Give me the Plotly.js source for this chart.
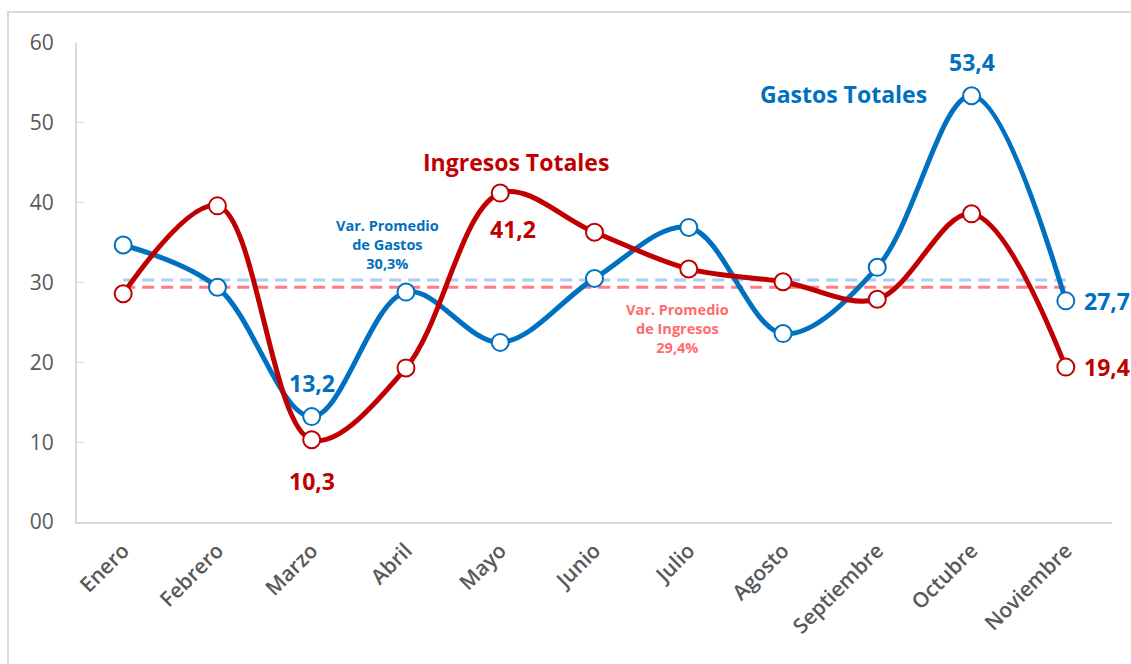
<!DOCTYPE html>
<html>
<head>
<meta charset="utf-8">
<script src="https://cdn.plot.ly/plotly-3.0.1.min.js"></script>
<style>
html,body{margin:0;padding:0;background:#fff;}
#chart{width:1131px;height:664px;}
#frame{position:absolute;left:7px;top:11px;width:1124px;height:653px;border-left:2px solid #d9d9d9;border-top:2px solid #d9d9d9;pointer-events:none;box-sizing:border-box;}
</style>
</head>
<body>
<div id="chart"></div>
<div id="frame"></div>
<script>
const months = ["Enero","Febrero","Marzo","Abril","Mayo","Junio","Julio","Agosto","Septiembre","Octubre","Noviembre"];
const gastos = [34.7, 29.4, 13.2, 28.8, 22.5, 30.5, 36.9, 23.6, 31.9, 53.4, 27.7];
const ingresos = [28.6, 39.6, 10.3, 19.3, 41.2, 36.3, 31.7, 30.1, 27.9, 38.6, 19.4];
const avgGastos = 30.3;
const avgIngresos = 29.4;
const yTickVals = [0,10,20,30,40,50,60];
const yTickText = ["00","10","20","30","40","50","60"];

const BLUE = "#0070c0", RED = "#c00000";
const FONT = "Open Sans";

const traces = [
  {x: months, y: months.map(() => avgGastos), mode: "lines", line: {color: "#a9cdf3", width: 3, dash: "12px,7px"}, hoverinfo: "skip"},
  {x: months, y: months.map(() => avgIngresos), mode: "lines", line: {color: "#ff7c80", width: 3, dash: "12px,7px"}, hoverinfo: "skip"},
  {x: months, y: gastos, mode: "lines+markers", line: {color: BLUE, width: 5, shape: "spline", smoothing: 1},
   marker: {size: 17, color: "#fff", line: {color: BLUE, width: 2}}},
  {x: months, y: ingresos, mode: "lines+markers", line: {color: RED, width: 5, shape: "spline", smoothing: 1},
   marker: {size: 17, color: "#fff", line: {color: RED, width: 2}}}
];

function val(v){ return v.toFixed(1).replace(".", ","); }
const big = (c) => ({family: FONT, size: 23, color: c, weight: 700});
const small = (c) => ({family: FONT, size: 14.5, color: c, weight: 700});
const ann = [
  {x: "Octubre", y: gastos[9], text: val(gastos[9]), yshift: 34, font: big(BLUE)},
  {x: "Noviembre", y: gastos[10], text: val(gastos[10]), xshift: 16, xanchor: "left", font: big(BLUE)},
  {x: "Noviembre", y: ingresos[10], text: val(ingresos[10]), xshift: 16, xanchor: "left", font: big(RED)},
  {x: "Marzo", y: gastos[2], text: val(gastos[2]), yshift: 34, font: big(BLUE)},
  {x: "Marzo", y: ingresos[2], text: val(ingresos[2]), yshift: -41, font: big(RED)},
  {x: "Mayo", y: ingresos[4], text: val(ingresos[4]), xshift: 13, yshift: -36, font: big(RED)},
  {x: 7.64, y: 53.6, text: "Gastos Totales", font: big(BLUE)},
  {x: 4.17, y: 45.1, text: "Ingresos Totales", font: big(RED)},
  {x: 2.8, y: 34.8, text: "Var. Promedio<br>de Gastos<br>" + val(avgGastos) + "%", font: small(BLUE)},
  {x: 5.88, y: 24.3, text: "Var. Promedio<br>de Ingresos<br>" + val(avgIngresos) + "%", font: small("#ff6b6b")}
].map(a => Object.assign({xref: "x", yref: "y", showarrow: false}, a));

const layout = {
  width: 1131, height: 664,
  margin: {l: 77, r: 19, t: 43, b: 142},
  paper_bgcolor: "#fff", plot_bgcolor: "#fff",
  showlegend: false,
  font: {family: FONT, color: "#595959"},
  xaxis: {
    type: "category", range: [-0.49, 10.49], showgrid: false, zeroline: false,
    showline: true, linecolor: "#d9d9d9", linewidth: 2, ticks: "",
    tickangle: -45, ticklabelstandoff: 6,
    tickfont: {family: FONT, size: 21, color: "#595959", weight: 600}
  },
  yaxis: {
    range: [0, 60], tickvals: yTickVals, ticktext: yTickText, showgrid: false, zeroline: false,
    showline: true, linecolor: "#d9d9d9", linewidth: 2, ticks: "inside", ticklen: 7, tickcolor: "#d9d9d9", tickwidth: 1,
    ticklabelstandoff: 17,
    tickfont: {family: FONT, size: 21, color: "#595959"}
  },
  annotations: ann
};

Plotly.newPlot("chart", traces, layout, {displayModeBar: false, staticPlot: true});
</script>
</body>
</html>
